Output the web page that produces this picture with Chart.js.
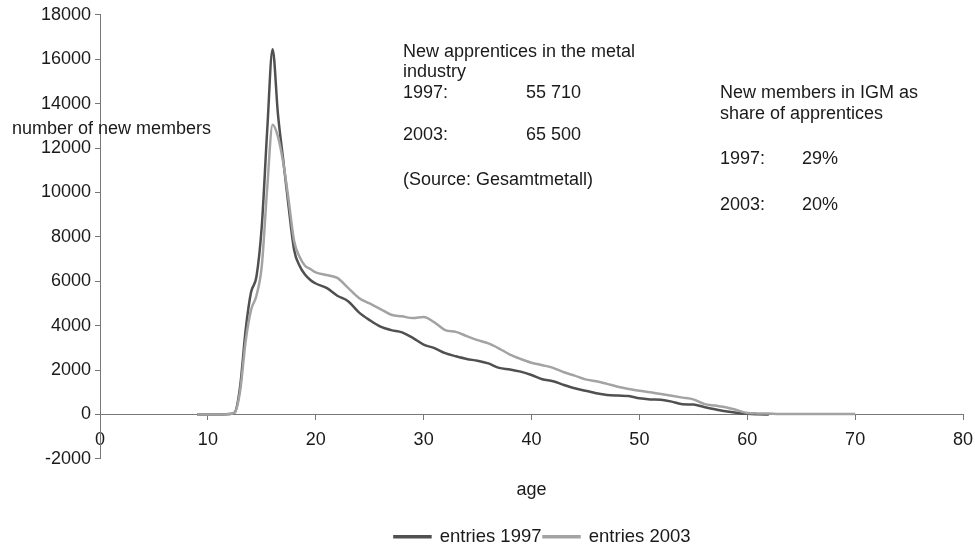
<!DOCTYPE html>
<html>
<head>
  <meta charset="utf-8">
  <title>New members by age</title>
  <style>
    html, body { margin: 0; padding: 0; background: #fff; }
    #wrap { width: 975px; height: 548px; }
  </style>
</head>
<body>
<div id="wrap"><canvas id="ageChart"></canvas></div>

<script src="https://cdn.jsdelivr.net/npm/chart.js"></script>
<script type="text/javascript">
    // data
    const ages = [9, 10, 11, 12, 12.5, 13, 13.5, 14, 14.5, 15, 15.5, 16, 16.5, 17, 17.5, 18, 18.5, 19, 19.5, 20,
      21, 22, 23, 24, 25, 26, 27, 28, 29, 30, 31, 32, 33, 34, 35, 36, 37, 38, 39, 40,
      41, 42, 43, 44, 45, 46, 47, 48, 49, 50, 51, 52, 53, 54, 55, 56, 57, 58, 59, 60,
      61, 62, 63, 64, 65, 66, 67, 68, 69, 70];

    const entries1997 = [0, 0, 0, 20, 100, 1300, 3800, 5500, 6200, 8500, 12800, 16450, 13500, 11400, 9300, 7400, 6700, 6300, 6060, 5900,
      5700, 5350, 5100, 4600, 4250, 3960, 3800, 3700, 3450, 3150, 2990, 2760, 2620, 2500, 2420, 2300, 2100, 2030, 1930, 1780,
      1590, 1500, 1330, 1180, 1070, 960, 880, 850, 830, 730, 680, 660, 580, 460, 450, 340, 240, 150, 80, 30,
      10, 0, null, null, null, null, null, null, null, null];

    const entries2003 = [0, 0, 0, 20, 100, 1100, 3300, 4700, 5350, 6700, 10200, 13050, 12500, 11300, 9600, 7800, 7100, 6700, 6550, 6400,
      6280, 6150, 5700, 5250, 5000, 4750, 4490, 4420, 4340, 4390, 4150, 3800, 3720, 3530, 3350, 3200, 2970, 2700, 2500, 2330,
      2220, 2100, 1900, 1750, 1580, 1500, 1380, 1250, 1150, 1070, 1000, 920, 840, 760, 680, 480, 400, 330, 200, 70,
      50, 40, 20, 20, 20, 20, 20, 20, 20, 20];

    const seriesLabels = ['entries 1997', 'entries 2003'];

    const noteLeft = [
      ['New apprentices in the metal', 403, 57],
      ['industry', 403, 77],
      ['1997:', 403, 98], ['55 710', 526, 98],
      ['2003:', 403, 140], ['65 500', 526, 140],
      ['(Source: Gesamtmetall)', 403, 185]
    ];
    const noteRight = [
      ['New members in IGM as', 720, 98],
      ['share of apprentices', 720, 119],
      ['1997:', 720, 164], ['29%', 802, 164],
      ['2003:', 720, 210], ['20%', 802, 210]
    ];

    const fontFamily = "'Liberation Sans', Arial, sans-serif";
    const textColor = '#1a1a1a';
    const axisColor = '#777777';

    function toPoints(values) {
      return ages.map((a, i) => ({ x: a, y: values[i] }));
    }

    // free text on the plot (notes and the horizontal y title)
    const notesPlugin = {
      id: 'notes',
      afterLayout(chart) {
        // legend sits a bit right of the plot centre in the original
        chart.legend.left += 11;
        chart.legend.right += 11;
      },
      afterDraw(chart) {
        const ctx = chart.ctx;
        ctx.save();
        ctx.font = '18px ' + fontFamily;
        ctx.fillStyle = textColor;
        ctx.textAlign = 'left';
        ctx.textBaseline = 'alphabetic';
        noteLeft.concat(noteRight).forEach(n => ctx.fillText(n[0], n[1], n[2]));
        ctx.fillText('number of new members', 12, 134);
        ctx.restore();
      }
    };

    const data = {
      datasets: [{
        label: seriesLabels[0],
        data: toPoints(entries1997),
        borderColor: '#505050',
        backgroundColor: '#505050',
        borderWidth: 2.5,
        pointRadius: 0,
        cubicInterpolationMode: 'monotone',
        fill: false,
        order: 1
      }, {
        label: seriesLabels[1],
        data: toPoints(entries2003),
        borderColor: '#a3a3a3',
        backgroundColor: '#a3a3a3',
        borderWidth: 2.5,
        pointRadius: 0,
        cubicInterpolationMode: 'monotone',
        fill: false,
        order: 0
      }]
    };

    const config = {
      type: 'line',
      data: data,
      plugins: [notesPlugin],
      options: {
        responsive: true,
        maintainAspectRatio: false,
        animation: false,
        layout: { padding: { left: 0, right: 12, top: 14, bottom: -8 } },
        scales: {
          x: {
            type: 'linear',
            position: { y: 0 },
            min: 0,
            max: 80,
            afterFit(scale) { scale.paddingLeft = 0; scale.paddingRight = 0; },
            grid: { drawOnChartArea: false, drawTicks: true, tickLength: 5, color: axisColor },
            border: { display: true, color: axisColor, width: 1 },
            ticks: {
              stepSize: 10,
              padding: 10,
              maxRotation: 0,
              color: textColor,
              font: { family: fontFamily, size: 18 },
              callback: v => String(v)
            }
          },
          y: {
            min: -2000,
            max: 18000,
            afterFit(scale) { scale.width = 100; },
            grid: { drawOnChartArea: false, drawTicks: true, tickLength: 5, color: axisColor },
            border: { display: true, color: axisColor, width: 1 },
            ticks: {
              stepSize: 2000,
              padding: 4,
              color: textColor,
              font: { family: fontFamily, size: 18 },
              callback: v => String(v)
            }
          }
        },
        plugins: {
          tooltip: { enabled: false },
          title: {
            display: true,
            text: 'age',
            position: 'bottom',
            fullSize: false,
            weight: 500,
            color: textColor,
            font: { family: fontFamily, size: 18, weight: 'normal' },
            padding: { top: 20, bottom: 25 }
          },
          legend: {
            position: 'bottom',
            fullSize: false,
            reverse: true,
            labels: {
              boxWidth: 36,
              boxHeight: 1,
              padding: 2,
              color: textColor,
              font: { family: fontFamily, size: 18.5 }
            }
          }
        }
      }
    };

    const ageChart = new Chart(document.getElementById('ageChart'), config);
</script>
</body>
</html>
